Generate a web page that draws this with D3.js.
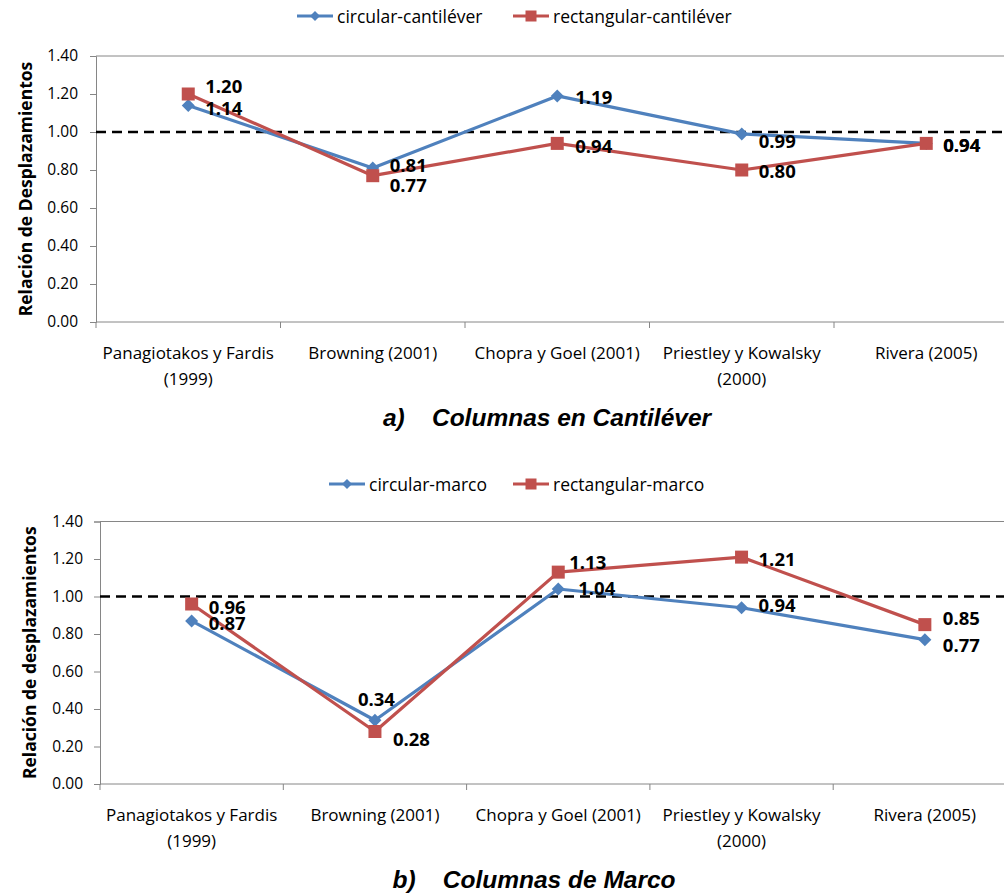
<!DOCTYPE html>
<html>
<head>
<meta charset="utf-8">
<script src="https://cdn.jsdelivr.net/npm/d3@7"></script>
<style>
  html, body { margin: 0; padding: 0; background: #fff; }
  svg { display: block; }
  text { font-family: "Open Sans", "Noto Sans", sans-serif; }
</style>
</head>
<body>
<svg id="chart" width="1004" height="896"></svg>
<script>
// Categories (authors) shared by both panels; "\n" marks a line break
const categories = [
  "Panagiotakos y Fardis\n(1999)",
  "Browning (2001)",
  "Chopra y Goel (2001)",
  "Priestley y Kowalsky\n(2000)",
  "Rivera (2005)"
];

// Displacement ratios, cantilever columns
const cantileverCircular    = [1.14, 0.81, 1.19, 0.99, 0.94];
const cantileverRectangular = [1.20, 0.77, 0.94, 0.80, 0.94];

// Displacement ratios, frame columns
const marcoCircular    = [0.87, 0.34, 1.04, 0.94, 0.77];
const marcoRectangular = [0.96, 0.28, 1.13, 1.21, 0.85];

// Y axis ticks and reference ratio
const yTicks = [0.00, 0.20, 0.40, 0.60, 0.80, 1.00, 1.20, 1.40];
const referenceRatio = 1.00;

const BLUE = "#4F81BD";
const RED = "#C0504D";
const AXIS = "#868686";

const svg = d3.select("#chart");
svg.append("rect").attr("width", 1004).attr("height", 896).attr("fill", "#fff");

const diamondPath = s => `M0,${-s}L${s},0L0,${s}L${-s},0Z`;

function drawMarker(g, kind, x, y, color, size) {
  if (kind === "diamond") {
    g.append("path").attr("d", diamondPath(size)).attr("transform", `translate(${x},${y})`).attr("fill", color);
  } else {
    g.append("rect").attr("x", x - size).attr("y", y - size)
      .attr("width", 2 * size).attr("height", 2 * size).attr("fill", color);
  }
}

function drawPanel(cfg) {
  const g = svg.append("g");
  const x = d3.scaleBand().domain(categories).range([cfg.left, cfg.left + cfg.band * categories.length]);
  const y = d3.scaleLinear().domain([0, 1.4]).range([cfg.bottom, cfg.top]);

  // plot area top border
  g.append("line").attr("x1", cfg.left).attr("x2", 1004).attr("y1", cfg.top).attr("y2", cfg.top)
    .attr("stroke", AXIS).attr("stroke-width", 1);

  // y axis
  const yAxis = g.append("g").attr("transform", `translate(${cfg.left},0)`)
    .call(d3.axisLeft(y).tickValues(yTicks).tickFormat(d3.format(".2f")).tickSize(6).tickPadding(cfg.tickPad));
  yAxis.select(".domain").attr("stroke", AXIS);
  yAxis.selectAll(".tick line").attr("stroke", AXIS);
  yAxis.selectAll(".tick text").attr("fill", "#000").style("font-size", "15.5px")
    .style("font-family", "'Open Sans', sans-serif");

  // x axis with ticks at category boundaries
  const xg = g.append("g").attr("transform", `translate(0,${cfg.bottom})`);
  xg.append("line").attr("x1", cfg.left).attr("x2", 1004).attr("y1", 0).attr("y2", 0).attr("stroke", AXIS);
  categories.forEach((c, i) => {
    const bx = x(c);
    xg.append("line").attr("x1", bx).attr("x2", bx).attr("y1", 0).attr("y2", 6).attr("stroke", AXIS);
    const lines = c.split("\n");
    lines.forEach((ln, j) => {
      xg.append("text").attr("x", bx + x.bandwidth() / 2).attr("y", 30 + j * 26)
        .attr("text-anchor", "middle").attr("dominant-baseline", "central")
        .style("font-size", "17px").attr("fill", "#000").text(ln);
    });
  });

  // y axis title
  g.append("text").attr("transform", `translate(${cfg.titleX},${(cfg.top + cfg.bottom) / 2}) rotate(-90)`)
    .attr("text-anchor", "middle").style("font-size", "17.5px").style("font-weight", "bold")
    .text(cfg.yTitle);

  // reference line at ratio 1.0
  g.append("line").attr("x1", cfg.left).attr("x2", 1004)
    .attr("y1", y(referenceRatio)).attr("y2", y(referenceRatio))
    .attr("stroke", "#000").attr("stroke-width", 2.5).attr("stroke-dasharray", "10,6");

  const line = d3.line().x((d, i) => x(categories[i]) + x.bandwidth() / 2).y(d => y(d));

  cfg.series.forEach(s => {
    g.append("path").datum(s.values).attr("d", line).attr("fill", "none")
      .attr("stroke", s.color).attr("stroke-width", 3.2).attr("stroke-linejoin", "round");
  });
  cfg.series.forEach(s => {
    s.values.forEach((v, i) => {
      drawMarker(g, s.marker, x(categories[i]) + x.bandwidth() / 2, y(v), s.color, 6.5);
    });
  });
  // data labels
  cfg.series.forEach(s => {
    s.values.forEach((v, i) => {
      const off = s.labelOffsets[i];
      g.append("text").attr("x", x(categories[i]) + x.bandwidth() / 2 + off[0]).attr("y", y(v) + off[1])
        .attr("dominant-baseline", "central").style("font-size", "18.5px").style("font-weight", "bold")
        .attr("fill", "#000").text(d3.format(".2f")(v));
    });
  });

  // legend
  const lg = g.append("g");
  cfg.series.forEach((s, k) => {
    const lx = cfg.legendX[k];
    lg.append("line").attr("x1", lx).attr("x2", lx + 36).attr("y1", cfg.legendY).attr("y2", cfg.legendY)
      .attr("stroke", s.color).attr("stroke-width", 3.2);
    drawMarker(lg, s.marker, lx + 18, cfg.legendY, s.color, s.marker === "diamond" ? 5 : 5.5);
    lg.append("text").attr("x", lx + 40).attr("y", cfg.legendY).attr("dominant-baseline", "central")
      .style("font-size", "17.5px").attr("fill", "#000").text(s.name);
  });

  // caption
  g.append("text").attr("x", cfg.captionX).attr("y", cfg.bottom + 95).attr("dominant-baseline", "central")
    .attr("text-anchor", "middle")
    .style("font-family", "'Liberation Sans', Arial, sans-serif").style("font-size", "24.5px")
    .style("font-weight", "bold").style("font-style", "italic").style("white-space", "pre")
    .text(cfg.caption);
}

drawPanel({
  left: 96, top: 56, bottom: 322, band: 184.5, titleX: 32, tickPad: 12,
  yTitle: "Relación de Desplazamientos",
  legendY: 16, legendX: [297, 513],
  caption: "a)    Columnas en Cantiléver", captionX: 547,
  series: [
    { name: "circular-cantiléver", values: cantileverCircular, color: BLUE, marker: "diamond",
      labelOffsets: [[17, 2], [17, -4], [18, 1], [17, 7], [17, 1]] },
    { name: "rectangular-cantiléver", values: cantileverRectangular, color: RED, marker: "square",
      labelOffsets: [[17, -9], [17, 9], [18, 2], [17, 0], [17, 1]] }
  ]
});

drawPanel({
  left: 100, top: 521.5, bottom: 784, band: 183.3, titleX: 36, tickPad: 11,
  yTitle: "Relación de desplazamientos",
  legendY: 484, legendX: [329, 513],
  caption: "b)    Columnas de Marco", captionX: 534,
  series: [
    { name: "circular-marco", values: marcoCircular, color: BLUE, marker: "diamond",
      labelOffsets: [[17, 2], [-17, -22], [20, -2], [17, -3], [18, 5]] },
    { name: "rectangular-marco", values: marcoRectangular, color: RED, marker: "square",
      labelOffsets: [[17, 2], [18, 6.5], [11, -11], [17, 1], [18, -7]] }
  ]
});
</script>
</body>
</html>
